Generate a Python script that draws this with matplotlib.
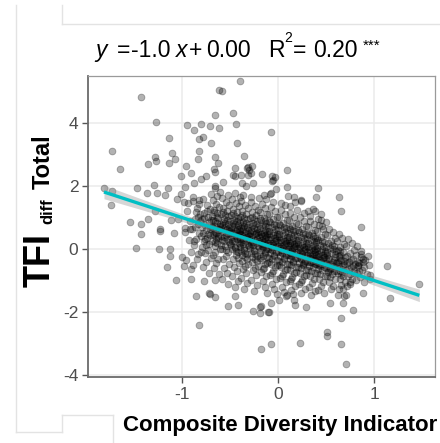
import numpy as np
import matplotlib.pyplot as plt
from matplotlib.lines import Line2D

# ---- values ----
slope = -1.0
intercept = 0.00
r2 = 0.20
x_ticks = [-1, 0, 1]
y_ticks = [-4, -2, 0, 2, 4]

# sparse points outside the main cloud
outliers = [
    (-1.42, 4.83), (-1.27, 4.03), (-0.95, 3.95), (-0.87, 3.77), (-0.80, 3.98), (-1.13, 3.51),
    (-0.82, 3.50), (-0.78, 3.56), (-1.73, 3.10), (-1.28, 2.92), (-1.35, 2.69), (-1.27, 2.79),
    (-1.10, 3.04), (-1.07, 2.85), (-1.13, 2.72), (-0.82, 3.11), (-0.83, 2.85), (-1.64, 2.54),
    (-0.96, 2.63), (-0.90, 2.42), (-1.01, 2.32), (-0.87, 2.10), (-0.80, 2.21), (-0.75, 2.32),
    (-1.81, 1.95), (-1.73, 1.84), (-1.74, 1.40), (-1.47, 1.93), (-1.36, 1.79), (-1.29, 2.02),
    (-1.26, 1.79), (-1.17, 1.70), (-1.14, 1.95), (-0.97, 1.97), (-1.01, 1.74), (-1.05, 1.58),
    (-0.98, 1.49), (-0.88, 1.65), (-0.82, 1.55), (-1.28, 1.21), (-1.54, 0.86), (-1.42, 0.78),
    (-1.35, 0.94), (-1.23, 0.62), (-1.11, 0.91), (-1.04, 0.94), (-0.97, 0.68), (-1.42, 0.48),
    (-1.48, 0.02), (-1.23, 0.58), (-1.24, 0.00), (-1.08, 0.50), (-1.12, 0.00), (-1.12, -0.21),
    (-1.15, -0.58), (-1.06, -0.98), (-1.00, -0.24), (-0.98, -0.54), (-0.90, -0.63), (-0.90, -0.94),
    (-0.85, -1.49), (-0.82, -2.41), (-0.77, -1.03), (-0.72, -1.41), (-0.66, -1.51), (-0.52, -1.81),
    (-0.42, -1.76), (-0.26, -1.96), (-0.19, -1.83), (-0.19, -2.04), (-0.09, -2.01), (-0.18, -3.17),
    (-0.07, -3.02), (0.23, -2.97), (0.51, -2.62), (0.51, -2.76), (0.66, -3.00), (0.71, -3.66),
    (0.66, -2.20), (0.78, -1.92), (0.54, -1.70), (0.68, -1.72), (0.62, -1.46), (0.69, -1.49),
    (0.88, -1.41), (1.17, -1.54), (1.13, -0.54), (0.96, -0.83), (0.86, 0.71), (0.66, 1.22),
    (0.63, 1.66), (0.42, 1.93), (0.40, 1.64), (0.09, 2.51), (-0.07, 3.72), (-0.40, 5.34),
    (-0.61, 5.03), (-0.58, 5.01), (-0.47, 4.33), (-0.66, 4.24), (-0.44, 3.96), (-0.61, 3.85),
    (-0.71, 3.91), (-0.43, 3.36), (-0.70, 3.36), (-0.66, 2.91), (-0.35, 2.96), (-0.45, 2.56),
    (-0.31, 2.61), (-0.28, 2.40), (-0.17, 2.37), (-0.03, 2.29), (-0.05, 2.19), (-0.02, 1.90),
    (0.10, 1.68), (0.17, 1.64), (0.24, 1.56), (0.09, 1.98), (-0.62, 2.72), (-0.67, 2.55),
    (-0.66, 2.44), (-0.47, 2.35), (-0.45, 2.32), (-0.38, 2.35), (-0.32, 2.58), (-0.30, 2.50),
    (-0.27, 2.63), (-0.31, 2.34), (-0.06, 2.32), (-0.06, 2.16), (-0.57, 2.13), (-0.66, 2.00),
    (-0.65, 1.95), (-0.37, 2.09), (-0.26, 2.09), (-0.33, 2.00), (-0.07, 1.79), (0.24, 1.52),
    (0.31, 1.21), (0.36, 1.26), (0.46, 0.73), (0.45, 0.92), (1.47, -1.10), (0.93, -0.80),
    (0.96, -0.96), (0.75, -1.10), (0.68, -1.26), (0.71, -1.47), (0.86, -0.17), (0.94, -0.22),
    (0.88, -0.41), (0.83, -0.52), (-0.71, -1.42), (-0.45, -1.49), (-0.18, -1.81), (-0.10, -2.00),
    (-0.07, -1.70), (0.01, -1.62), (0.18, -1.79), (0.29, -1.84), (0.08, -1.50), (0.17, -1.61),
    (-0.95, 1.20), (-0.92, 0.90), (-0.97, 0.55), (-0.93, 0.30), (-0.90, -0.10), (-0.96, -0.35),
    (-0.91, 0.65), (-0.94, 1.45), (0.91, -0.35), (0.95, -0.50), (0.89, -1.05),
]

# upper fringe of the main cloud
fringe = [
    (-0.70, 1.75), (-0.60, 1.80), (-0.52, 1.72), (-0.45, 1.78), (-0.36, 1.70), (-0.28, 1.66),
    (-0.20, 1.62), (-0.12, 1.58), (-0.05, 1.50), (0.03, 1.45), (0.12, 1.35), (0.20, 1.25),
    (-0.63, 1.68), (-0.40, 1.65), (-0.15, 1.70), (0.07, 1.40), (0.27, 1.15), (0.33, 1.05),
    (0.42, 0.95), (0.50, 0.85), (0.45, 1.10), (0.38, 1.22), (0.18, 1.50), (-0.08, 1.75),
]

# main cloud, left part (x from -0.9 to -0.4)
core_left = [
    (-0.88, 1.52), (-0.84, 1.31), (-0.81, 1.12), (-0.86, 0.95), (-0.83, 0.78), (-0.89, 0.64),
    (-0.82, 0.51), (-0.85, 0.33), (-0.87, 0.12), (-0.80, -0.08), (-0.84, -0.31), (-0.88, -0.52),
    (-0.82, 1.44), (-0.81, 0.88), (-0.86, 0.71), (-0.83, 1.02), (-0.85, 1.18), (-0.80, 0.42),
    (-0.87, 0.24), (-0.83, -0.17),
    (-0.78, 1.58), (-0.74, 1.41), (-0.71, 1.27), (-0.77, 1.15), (-0.73, 1.03), (-0.79, 0.94),
    (-0.72, 0.86), (-0.76, 0.77), (-0.70, 0.69), (-0.75, 0.60), (-0.78, 0.52), (-0.71, 0.44),
    (-0.74, 0.35), (-0.77, 0.26), (-0.72, 0.17), (-0.79, 0.08), (-0.73, -0.03), (-0.76, -0.14),
    (-0.70, -0.27), (-0.75, -0.41), (-0.78, -0.58), (-0.72, -0.76), (-0.74, 1.21), (-0.77, 0.98),
    (-0.71, 0.63), (-0.79, 0.71), (-0.73, 0.48), (-0.76, 0.31), (-0.70, 0.92), (-0.75, 0.12),
    (-0.68, 1.55), (-0.64, 1.43), (-0.61, 1.32), (-0.67, 1.24), (-0.63, 1.13), (-0.69, 1.05),
    (-0.62, 0.97), (-0.66, 0.89), (-0.60, 0.81), (-0.65, 0.74), (-0.68, 0.66), (-0.61, 0.59),
    (-0.64, 0.51), (-0.67, 0.43), (-0.62, 0.36), (-0.69, 0.27), (-0.63, 0.19), (-0.66, 0.10),
    (-0.60, 0.01), (-0.65, -0.09), (-0.68, -0.20), (-0.62, -0.32), (-0.64, -0.45), (-0.67, -0.61),
    (-0.61, -0.79), (-0.66, -0.97), (-0.63, 0.84), (-0.69, 0.71), (-0.61, 0.62), (-0.65, 0.55),
    (-0.68, 0.92), (-0.62, 0.40), (-0.67, 1.16), (-0.64, 0.31), (-0.60, 0.73), (-0.66, 0.22),
    (-0.63, 1.01), (-0.68, 0.47),
    (-0.58, 1.62), (-0.54, 1.50), (-0.51, 1.39), (-0.57, 1.30), (-0.53, 1.21), (-0.59, 1.12),
    (-0.52, 1.04), (-0.56, 0.96), (-0.50, 0.89), (-0.55, 0.82), (-0.58, 0.75), (-0.51, 0.68),
    (-0.54, 0.61), (-0.57, 0.54), (-0.52, 0.47), (-0.59, 0.40), (-0.53, 0.33), (-0.56, 0.25),
    (-0.50, 0.17), (-0.55, 0.09), (-0.58, 0.00), (-0.52, -0.10), (-0.54, -0.21), (-0.57, -0.33),
    (-0.51, -0.46), (-0.56, -0.60), (-0.53, -0.76), (-0.58, -0.94), (-0.52, -1.12), (-0.55, 0.71),
    (-0.59, 0.63), (-0.51, 0.57), (-0.54, 0.44), (-0.57, 0.86), (-0.53, 0.92), (-0.56, 0.37),
    (-0.50, 0.51), (-0.58, 0.29), (-0.52, 0.78), (-0.55, 1.08), (-0.59, 0.12), (-0.51, 0.21),
    (-0.54, -0.04), (-0.57, 1.17), (-0.53, 0.65),
    (-0.48, 1.58), (-0.44, 1.46), (-0.41, 1.35), (-0.47, 1.26), (-0.43, 1.17), (-0.49, 1.08),
    (-0.42, 1.00), (-0.46, 0.93), (-0.40, 0.86), (-0.45, 0.79), (-0.48, 0.72), (-0.41, 0.65),
    (-0.44, 0.58), (-0.47, 0.52), (-0.42, 0.45), (-0.49, 0.38), (-0.43, 0.31), (-0.46, 0.24),
    (-0.40, 0.16), (-0.45, 0.08), (-0.48, -0.01), (-0.42, -0.10), (-0.44, -0.20), (-0.47, -0.31),
    (-0.41, -0.43), (-0.46, -0.56), (-0.43, -0.70), (-0.48, -0.86), (-0.42, -1.03), (-0.45, -1.22),
    (-0.49, 0.61), (-0.41, 0.55), (-0.44, 0.41), (-0.47, 0.83), (-0.43, 0.89), (-0.46, 0.34),
    (-0.40, 0.48), (-0.48, 0.27), (-0.42, 0.75), (-0.45, 1.05), (-0.49, 0.14), (-0.41, 0.20),
    (-0.44, -0.05), (-0.47, 1.13), (-0.43, 0.62), (-0.46, 0.69), (-0.40, 0.37), (-0.48, 0.50),
    (-0.42, -0.27), (-0.45, 0.03),
]

# main cloud, middle part (x from -0.4 to 0.2)
core_mid = [
    (-0.38, 1.53), (-0.34, 1.41), (-0.31, 1.30), (-0.37, 1.21), (-0.33, 1.12), (-0.39, 1.03),
    (-0.32, 0.95), (-0.36, 0.87), (-0.30, 0.80), (-0.35, 0.73), (-0.38, 0.66), (-0.31, 0.59),
    (-0.34, 0.52), (-0.37, 0.45), (-0.32, 0.38), (-0.39, 0.31), (-0.33, 0.24), (-0.36, 0.17),
    (-0.30, 0.10), (-0.35, 0.02), (-0.38, -0.07), (-0.32, -0.16), (-0.34, -0.26), (-0.37, -0.37),
    (-0.31, -0.49), (-0.36, -0.62), (-0.33, -0.76), (-0.38, -0.92), (-0.32, -1.09), (-0.35, -1.28),
    (-0.39, 0.56), (-0.31, 0.49), (-0.34, 0.35), (-0.37, 0.77), (-0.33, 0.83), (-0.36, 0.28),
    (-0.30, 0.42), (-0.38, 0.21), (-0.32, 0.69), (-0.35, 0.99), (-0.39, 0.08), (-0.31, 0.14),
    (-0.34, -0.11), (-0.37, 1.07), (-0.33, 0.57), (-0.36, 0.63), (-0.30, 0.31), (-0.38, 0.44),
    (-0.32, -0.33), (-0.35, -0.02), (-0.34, -0.55), (-0.37, -0.19),
    (-0.28, 1.48), (-0.24, 1.36), (-0.21, 1.25), (-0.27, 1.16), (-0.23, 1.07), (-0.29, 0.98),
    (-0.22, 0.90), (-0.26, 0.82), (-0.20, 0.75), (-0.25, 0.68), (-0.28, 0.61), (-0.21, 0.54),
    (-0.24, 0.47), (-0.27, 0.40), (-0.22, 0.33), (-0.29, 0.26), (-0.23, 0.19), (-0.26, 0.12),
    (-0.20, 0.05), (-0.25, -0.03), (-0.28, -0.12), (-0.22, -0.21), (-0.24, -0.31), (-0.27, -0.42),
    (-0.21, -0.54), (-0.26, -0.67), (-0.23, -0.81), (-0.28, -0.97), (-0.22, -1.14), (-0.25, -1.33),
    (-0.29, 0.51), (-0.21, 0.44), (-0.24, 0.30), (-0.27, 0.72), (-0.23, 0.78), (-0.26, 0.23),
    (-0.20, 0.37), (-0.28, 0.16), (-0.22, 0.64), (-0.25, 0.94), (-0.29, 0.03), (-0.21, 0.09),
    (-0.24, -0.16), (-0.27, 1.02), (-0.23, 0.52), (-0.26, 0.58), (-0.20, 0.26), (-0.28, 0.39),
    (-0.22, -0.38), (-0.25, -0.07), (-0.24, -0.60), (-0.27, -0.24),
    (-0.17, 1.43), (-0.13, 1.29), (-0.19, 1.19), (-0.11, 1.11), (-0.15, 1.00), (-0.18, 0.93),
    (-0.12, 0.84), (-0.16, 0.76), (-0.10, 0.70), (-0.14, 0.61), (-0.19, 0.55), (-0.11, 0.47),
    (-0.17, 0.41), (-0.13, 0.34), (-0.15, 0.27), (-0.18, 0.20), (-0.12, 0.13), (-0.16, 0.06),
    (-0.10, -0.01), (-0.14, -0.09), (-0.19, -0.17), (-0.11, -0.26), (-0.17, -0.36), (-0.13, -0.47),
    (-0.15, -0.59), (-0.18, -0.72), (-0.12, -0.86), (-0.16, -1.02), (-0.14, -1.19), (-0.11, -1.38),
    (-0.18, 0.48), (-0.12, 0.39), (-0.15, 0.22), (-0.19, 0.66), (-0.13, 0.73), (-0.16, 0.15),
    (-0.10, 0.31), (-0.17, 0.09), (-0.11, 0.57), (-0.14, 0.88), (-0.18, -0.04), (-0.12, 0.01),
    (-0.16, -0.22), (-0.19, 0.97), (-0.13, 0.44), (-0.15, 0.51), (-0.10, 0.18), (-0.17, 0.30),
    (-0.11, -0.43), (-0.14, -0.13), (-0.16, -0.64), (-0.19, -0.30),
    (-0.07, 1.34), (-0.03, 1.22), (-0.09, 1.12), (-0.01, 1.03), (-0.05, 0.94), (-0.08, 0.85),
    (-0.02, 0.77), (-0.06, 0.69), (0.00, 0.61), (-0.04, 0.54), (-0.09, 0.47), (-0.01, 0.40),
    (-0.07, 0.33), (-0.03, 0.26), (-0.05, 0.19), (-0.08, 0.12), (-0.02, 0.05), (-0.06, -0.02),
    (0.00, -0.10), (-0.04, -0.18), (-0.09, -0.27), (-0.01, -0.36), (-0.07, -0.46), (-0.03, -0.57),
    (-0.05, -0.69), (-0.08, -0.82), (-0.02, -0.96), (-0.06, -1.11), (-0.04, -1.27), (-0.01, -1.44),
    (-0.08, 0.38), (-0.02, 0.30), (-0.05, 0.13), (-0.09, 0.58), (-0.03, 0.65), (-0.06, 0.07),
    (0.00, 0.22), (-0.07, 0.00), (-0.01, 0.49), (-0.04, 0.80), (-0.08, -0.13), (-0.02, -0.08),
    (-0.06, -0.31), (-0.09, 0.89), (-0.03, 0.36), (-0.05, 0.43), (0.00, 0.10), (-0.07, 0.20),
    (-0.01, -0.52), (-0.04, -0.22), (-0.06, -0.75), (-0.09, -0.40),
    (0.03, 1.24), (0.07, 1.11), (0.01, 1.02), (0.09, 0.93), (0.05, 0.84), (0.02, 0.75),
    (0.08, 0.67), (0.04, 0.59), (0.10, 0.52), (0.06, 0.44), (0.01, 0.37), (0.09, 0.30),
    (0.03, 0.23), (0.07, 0.16), (0.05, 0.09), (0.02, 0.02), (0.08, -0.05), (0.04, -0.12),
    (0.10, -0.20), (0.06, -0.28), (0.01, -0.37), (0.09, -0.46), (0.03, -0.56), (0.07, -0.67),
    (0.05, -0.79), (0.02, -0.92), (0.08, -1.06), (0.04, -1.21), (0.06, -1.36), (0.09, -1.47),
    (0.02, 0.28), (0.08, 0.20), (0.05, 0.03), (0.01, 0.48), (0.07, 0.55), (0.04, -0.03),
    (0.10, 0.12), (0.03, -0.10), (0.09, 0.39), (0.06, 0.70), (0.02, -0.23), (0.08, -0.18),
    (0.04, -0.41), (0.01, 0.79), (0.07, 0.26), (0.05, 0.33), (0.10, 0.00), (0.03, 0.10),
    (0.09, -0.62), (0.06, -0.32), (0.04, -0.85), (0.01, -0.50),
    (0.13, 1.14), (0.17, 1.01), (0.11, 0.92), (0.19, 0.83), (0.15, 0.74), (0.12, 0.65),
    (0.18, 0.57), (0.14, 0.49), (0.20, 0.42), (0.16, 0.34), (0.11, 0.27), (0.19, 0.20),
    (0.13, 0.13), (0.17, 0.06), (0.15, -0.01), (0.12, -0.08), (0.18, -0.15), (0.14, -0.22),
    (0.20, -0.30), (0.16, -0.38), (0.11, -0.47), (0.19, -0.56), (0.13, -0.66), (0.17, -0.77),
    (0.15, -0.89), (0.12, -1.02), (0.18, -1.16), (0.14, -1.31), (0.16, -1.44), (0.12, 0.18),
    (0.18, 0.10), (0.15, -0.07), (0.11, 0.38), (0.17, 0.45), (0.14, -0.13), (0.20, 0.02),
    (0.13, -0.20), (0.19, 0.29), (0.16, 0.60), (0.12, -0.33), (0.18, -0.28), (0.14, -0.51),
    (0.11, 0.69), (0.17, 0.16), (0.15, 0.23), (0.20, -0.10), (0.13, 0.00), (0.19, -0.72),
    (0.16, -0.42), (0.14, -0.95),
]

# main cloud, right part (x from 0.2 to 0.9)
core_right = [
    (0.23, 1.02), (0.27, 0.90), (0.21, 0.81), (0.29, 0.72), (0.25, 0.63), (0.22, 0.55),
    (0.28, 0.47), (0.24, 0.39), (0.30, 0.32), (0.26, 0.24), (0.21, 0.17), (0.29, 0.10),
    (0.23, 0.03), (0.27, -0.04), (0.25, -0.11), (0.22, -0.18), (0.28, -0.25), (0.24, -0.32),
    (0.30, -0.40), (0.26, -0.48), (0.21, -0.57), (0.29, -0.66), (0.23, -0.76), (0.27, -0.87),
    (0.25, -0.99), (0.22, -1.12), (0.28, -1.26), (0.24, -1.40), (0.22, 0.08), (0.28, 0.00),
    (0.25, -0.17), (0.21, 0.28), (0.27, 0.35), (0.24, -0.23), (0.30, -0.08), (0.23, -0.30),
    (0.29, 0.19), (0.26, 0.50), (0.22, -0.43), (0.28, -0.38), (0.24, -0.61), (0.21, 0.59),
    (0.27, 0.06), (0.25, 0.13), (0.30, -0.20), (0.23, -0.10), (0.29, -0.82), (0.26, -0.52),
    (0.24, -1.05), (0.27, -0.45),
    (0.33, 0.90), (0.37, 0.79), (0.31, 0.70), (0.39, 0.61), (0.35, 0.52), (0.32, 0.44),
    (0.38, 0.36), (0.34, 0.28), (0.40, 0.21), (0.36, 0.13), (0.31, 0.06), (0.39, -0.01),
    (0.33, -0.08), (0.37, -0.15), (0.35, -0.22), (0.32, -0.29), (0.38, -0.35), (0.34, -0.42),
    (0.40, -0.49), (0.36, -0.57), (0.31, -0.66), (0.39, -0.75), (0.33, -0.85), (0.37, -0.96),
    (0.35, -1.08), (0.32, -1.21), (0.38, -1.34), (0.34, -1.45), (0.32, -0.02), (0.38, -0.10),
    (0.35, -0.27), (0.31, 0.18), (0.37, 0.25), (0.34, -0.33), (0.40, -0.18), (0.33, -0.40),
    (0.39, 0.09), (0.36, 0.40), (0.32, -0.53), (0.38, -0.47), (0.34, -0.70), (0.31, 0.48),
    (0.37, -0.04), (0.35, 0.03), (0.40, -0.30), (0.33, -0.20), (0.39, -0.38), (0.36, -0.45),
    (0.43, 0.76), (0.47, 0.65), (0.41, 0.56), (0.49, 0.47), (0.45, 0.38), (0.42, 0.30),
    (0.48, 0.22), (0.44, 0.14), (0.50, 0.07), (0.46, 0.00), (0.41, -0.07), (0.49, -0.14),
    (0.43, -0.21), (0.47, -0.28), (0.45, -0.35), (0.42, -0.41), (0.48, -0.47), (0.44, -0.53),
    (0.50, -0.60), (0.46, -0.67), (0.41, -0.75), (0.49, -0.84), (0.43, -0.94), (0.47, -1.05),
    (0.45, -1.17), (0.42, -1.30), (0.48, -1.39), (0.42, -0.15), (0.48, -0.24), (0.45, -0.40),
    (0.41, 0.04), (0.47, 0.11), (0.44, -0.46), (0.50, -0.31), (0.43, -0.52), (0.49, -0.05),
    (0.46, 0.26), (0.42, -0.63), (0.48, -0.56), (0.44, -0.80), (0.41, 0.34), (0.47, -0.18),
    (0.45, -0.10), (0.50, -0.43), (0.43, -0.33),
    (0.53, 0.64), (0.57, 0.53), (0.51, 0.44), (0.59, 0.35), (0.55, 0.26), (0.52, 0.18),
    (0.58, 0.10), (0.54, 0.02), (0.60, -0.05), (0.56, -0.12), (0.51, -0.19), (0.59, -0.26),
    (0.53, -0.33), (0.57, -0.40), (0.55, -0.46), (0.52, -0.52), (0.58, -0.58), (0.54, -0.64),
    (0.60, -0.71), (0.56, -0.78), (0.51, -0.86), (0.59, -0.95), (0.53, -1.05), (0.57, -1.16),
    (0.55, -1.28), (0.52, -0.27), (0.58, -0.36), (0.55, -0.55), (0.51, -0.08), (0.57, 0.00),
    (0.54, -0.60), (0.60, -0.44), (0.53, -0.67), (0.59, -0.16), (0.56, 0.14), (0.52, -0.74),
    (0.58, -0.69), (0.54, -0.90),
    (0.63, 0.48), (0.67, 0.36), (0.61, 0.26), (0.69, 0.16), (0.65, 0.07), (0.62, -0.02),
    (0.68, -0.10), (0.64, -0.18), (0.70, -0.26), (0.66, -0.34), (0.61, -0.41), (0.69, -0.48),
    (0.63, -0.55), (0.67, -0.62), (0.65, -0.69), (0.62, -0.77), (0.68, -0.85), (0.64, -0.94),
    (0.70, -1.04), (0.66, -1.15), (0.63, -1.27), (0.62, -0.45), (0.68, -0.52), (0.65, -0.30),
    (0.61, -0.60), (0.67, -0.72), (0.64, -0.05), (0.69, -0.38), (0.66, -0.82), (0.63, -0.22),
    (0.73, 0.33), (0.77, 0.20), (0.71, 0.09), (0.79, -0.02), (0.75, -0.12), (0.72, -0.22),
    (0.78, -0.31), (0.74, -0.40), (0.80, -0.49), (0.76, -0.58), (0.71, -0.66), (0.79, -0.75),
    (0.73, -0.84), (0.77, -0.94), (0.75, -1.05), (0.72, -1.17), (0.78, -0.55), (0.74, -0.62),
    (0.76, -0.35), (0.72, -0.45), (0.79, -0.70), (0.75, -0.80),
    (0.82, 0.10), (0.86, -0.05), (0.81, -0.20), (0.88, -0.32), (0.84, -0.44), (0.83, -0.55),
    (0.87, -0.66), (0.82, -0.77), (0.85, -0.88), (0.81, -0.99), (0.89, -0.58), (0.84, -0.71),
    (0.86, -0.25), (0.83, -0.40),
]

W, H = 440, 443
TEAL = "#00BFC4"
GRID = "#EBEBEB"
TICKC = "#4D4D4D"

plt.rcParams["font.family"] = ["Liberation Sans", "DejaVu Sans"]
plt.rcParams["axes.unicode_minus"] = False

pts = np.array(outliers + fringe + core_left + core_mid + core_right)
x, y = pts[:, 0], pts[:, 1]

fig = plt.figure(figsize=(W / 100, H / 100), dpi=100)
ax = fig.add_axes([88 / W, 1 - 377 / H, (435 - 88) / W, (377 - 76) / H])

ax.scatter(x, y, s=24, c="black", alpha=0.3, linewidths=0.6, edgecolors="black", zorder=2)

# fitted line with confidence ribbon
xs = np.linspace(x.min(), x.max(), 100)
yfit = intercept + slope * xs
resid = y - (intercept + slope * x)
sig = np.sqrt(np.sum(resid ** 2) / (len(x) - 2))
se = sig * np.sqrt(1 / len(x) + (xs - x.mean()) ** 2 / np.sum((x - x.mean()) ** 2))
ax.fill_between(xs, yfit - 1.96 * se, yfit + 1.96 * se, color="#999999", alpha=0.4, lw=0, zorder=3)
ax.plot(xs, yfit, color=TEAL, lw=2.4, zorder=4, solid_capstyle="butt")

ax.set_xlim(-1.976, 1.633)
ax.set_ylim(-4.06, 5.49)
ax.set_xticks(x_ticks)
ax.set_yticks(y_ticks)
ax.grid(True, color=GRID, lw=1.1, zorder=0)
ax.set_axisbelow(True)
ax.tick_params(length=4, width=1, color="#555555", labelcolor=TICKC, labelsize=12.5, pad=3)
for s in ["left", "bottom"]:
    ax.spines[s].set_color("#6A6A6A")
    ax.spines[s].set_linewidth(1.3)
for s in ["top", "right"]:
    ax.spines[s].set_color("#9A9A9A")
    ax.spines[s].set_linewidth(0.9)


def piece(px, py, s, size, ha="left", rot=0, **kw):
    fig.text(px / W, 1 - py / H, s, fontsize=size, ha=ha, va="baseline",
             rotation=rot, rotation_mode="anchor", **kw)


# y label: TFI with subscript diff, then Total (rotated)
piece(50, 287, "TFI", 26, rot=90, fontweight="bold")
piece(52, 224, "diff", 12, rot=90, fontweight="bold")
piece(50, 189, "Total", 17, rot=90, fontweight="bold")

# title, set piece by piece around measured glyph centres
base = 57.3
piece(101, base, "y", 16.5, ha="center", style="italic")
piece(124, base, "=", 16.5, ha="center")
piece(151, base, f"{slope:.1f}", 16.5, ha="center")
piece(182, base, "x", 16.5, ha="center", style="italic")
piece(196, base, "+", 16.5, ha="center")
piece(228.5, base, f"{intercept:.2f}", 16.5, ha="center")
piece(276, base, "R", 16.5, ha="center")
piece(288.5, 42, "2", 10, ha="center")
piece(300, base, "=", 16.5, ha="center")
piece(335, base, f"{r2:.2f}", 16.5, ha="center")
piece(372, 49.5, "***", 11, ha="center")

fig.text(280 / W, 1 - 426 / H, "Composite Diversity Indicator", fontsize=16,
         fontweight="bold", ha="center", va="center")

# faint panel edges of the neighbouring figure
LIGHT = "#E3E3E3"
segs = [((16, 5), (16, 432)), ((16, 432), (62, 432)), ((62, 432), (62, 415)),
        ((62, 415), (113, 415)), ((113, 415), (113, 443)), ((62, 5), (62, 24)),
        ((62, 24), (440, 24))]
for (x0, y0), (x1, y1) in segs:
    fig.add_artist(Line2D([x0 / W, x1 / W], [1 - y0 / H, 1 - y1 / H], color=LIGHT, lw=1,
                          transform=fig.transFigure))

fig.savefig("out.png", dpi=100)
